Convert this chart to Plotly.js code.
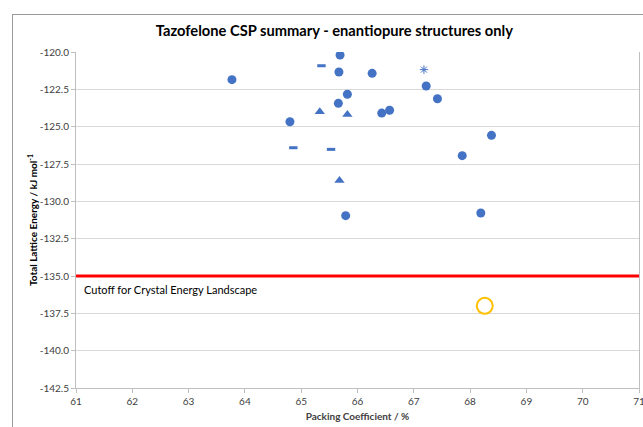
<!DOCTYPE html>
<html>
<head>
<meta charset="utf-8">
<script src="https://cdn.plot.ly/plotly-3.0.1.min.js"></script>
<style>
  html, body { margin: 0; padding: 0; background: #fff; }
  #wrap { position: relative; width: 643px; height: 427px; overflow: hidden; }
  #chart { position: absolute; left: 0; top: 0; width: 643px; height: 427px; }
  #frame { position: absolute; left: 12px; top: 14px; width: 700px; height: 500px;
           border: 1px solid #9a9a9a; pointer-events: none; }
</style>
</head>
<body>
<div id="wrap">
  <div id="chart"></div>
  <div id="frame"></div>
</div>
<script>
// Circle-marker structures
const circleX = [63.77, 65.69, 65.67, 66.26, 65.82, 65.66, 64.80, 66.43, 66.57, 67.22, 67.42, 68.38, 67.86, 68.19, 65.79];
const circleY = [-121.85, -120.2, -121.34, -121.43, -122.83, -123.44, -124.67, -124.09, -123.9, -122.28, -123.13, -125.58, -126.94, -130.78, -130.96];
// Triangle-marker structures
const triX = [65.33, 65.82, 65.68];
const triY = [-124.0, -124.18, -128.6];
// Dash-marker structures
const dashX = [65.36, 64.86, 65.53];
const dashY = [-120.92, -126.41, -126.52];
// Star-marker structure
const starX = [67.18];
const starY = [-121.18];
// Highlighted structure (open yellow circle)
const hiX = [68.26];
const hiY = [-137.0];
// Cutoff line
const cutoffX = [61, 71];
const cutoffY = [-135, -135];
const cutoffLabel = "Cutoff for Crystal Energy Landscape";
// Tick labels
const xTickVals = [61, 62, 63, 64, 65, 66, 67, 68, 69, 70, 71];
const xTickText = ["61", "62", "63", "64", "65", "66", "67", "68", "69", "70", "71"];
const yTickVals = [-120, -122.5, -125, -127.5, -130, -132.5, -135, -137.5, -140, -142.5];
const yTickText = ["-120.0", "-122.5", "-125.0", "-127.5", "-130.0", "-132.5", "-135.0", "-137.5", "-140.0", "-142.5"];

const blue = '#4472C4';
const font = 'Lato, "Open Sans", sans-serif';

const traces = [
  { x: cutoffX, y: cutoffY, mode: 'lines', line: { color: '#FF0000', width: 3 }, hoverinfo: 'skip' },
  { x: circleX, y: circleY, mode: 'markers', marker: { symbol: 'circle', size: 9, color: blue } },
  { x: triX, y: triY, mode: 'markers', marker: { symbol: 'triangle-up', size: 9, color: blue } },
  { x: dashX, y: dashY, mode: 'markers', marker: { symbol: 'line-ew', size: 6, color: blue, line: { color: blue, width: 3 } } },
  { x: starX, y: starY, mode: 'markers', marker: { symbol: 'asterisk-open', size: 7, color: blue, line: { color: blue, width: 1 } } },
  { x: hiX, y: hiY, mode: 'markers', marker: { symbol: 'circle-open', size: 16, color: '#FFC000', line: { color: '#FFC000', width: 2 } } }
];

const layout = {
  width: 643, height: 427,
  margin: { l: 76, r: 4, t: 52, b: 39 },
  paper_bgcolor: 'rgba(0,0,0,0)',
  plot_bgcolor: '#fff',
  showlegend: false,
  font: { family: font, color: '#595959', size: 10 },
  title: {
    text: '<b>Tazofelone CSP summary - enantiopure structures only</b>',
    font: { family: font, size: 14.7, color: '#000' },
    x: 0.52, xanchor: 'center', y: 0.927, yanchor: 'middle'
  },
  xaxis: {
    range: [61, 71], tickmode: 'array', tickvals: xTickVals, ticktext: xTickText,
    ticklabeloverflow: 'allow',
    showgrid: false, zeroline: false,
    showline: true, linecolor: '#bfbfbf', linewidth: 1,
    ticks: 'outside', ticklen: 4, tickcolor: '#bfbfbf',
    tickfont: { family: font, size: 10, color: '#404040' },
    title: { text: '<b>Packing Coefficient / %</b>', font: { family: font, size: 10, color: '#404040' }, standoff: 6 }
  },
  yaxis: {
    range: [-142.5, -120], tickmode: 'array', tickvals: yTickVals, ticktext: yTickText,
    showgrid: true, gridcolor: '#d9d9d9', gridwidth: 1, zeroline: false,
    showline: true, mirror: true, linecolor: '#bfbfbf', linewidth: 1,
    ticks: 'outside', ticklen: 4, tickcolor: '#bfbfbf',
    tickfont: { family: font, size: 10, color: '#404040' },
    title: { text: '<b>Total Lattice Energy / kJ mol<sup>-1</sup></b>', font: { family: font, size: 10, color: '#000' }, standoff: 0 }
  },
  annotations: [
    { x: 61.1, y: -135.35, xref: 'x', yref: 'y', text: cutoffLabel, showarrow: false,
      xanchor: 'left', yanchor: 'top', font: { family: font, size: 11, color: '#000' } }
  ]
};

Plotly.newPlot('chart', traces, layout, { displayModeBar: false, staticPlot: true });
</script>
</body>
</html>
